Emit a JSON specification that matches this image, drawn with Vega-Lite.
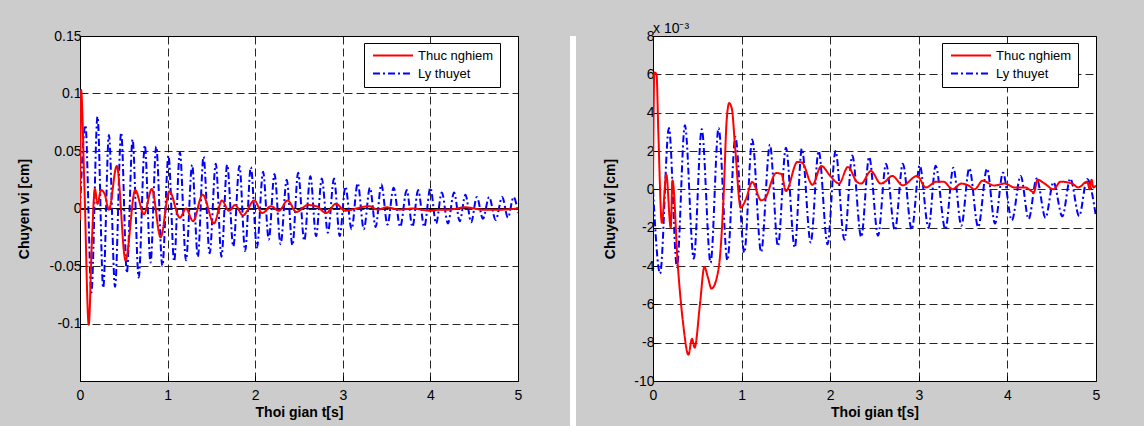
{
  "$schema": "https://vega.github.io/schema/vega-lite/v6.json",
  "background": "#cccccc",
  "padding": {"left": 16, "top": 0, "right": 44, "bottom": 0},
  "config": {
    "font": "Liberation Sans",
    "view": {"stroke": "black", "strokeWidth": 1, "fill": "white"},
    "axis": {
      "labelFont": "Liberation Sans", "labelFontSize": 14, "labelColor": "black",
      "titleFont": "Liberation Sans", "titleFontSize": 14, "titleFontWeight": "bold", "titleColor": "black",
      "domainColor": "black", "tickColor": "black", "tickSize": -5, "tickCount": 20,
      "gridColor": "black", "gridDash": [8, 4], "gridWidth": 1, "gridOpacity": 0.85,
      "labelFlush": false, "labelOverlap": false, "labelPadding": 4
    },
    "axisX": {"labelPadding": 12, "titlePadding": 3},
    "legend": {
      "orient": "none", "legendY": 7, "fillColor": "white", "strokeColor": "black", "padding": 6,
      "clipHeight": 13, "rowPadding": 4, "symbolType": "stroke", "symbolSize": 1600, "symbolStrokeWidth": 2,
      "labelFont": "Liberation Sans", "labelFontSize": 13, "labelColor": "black", "labelOffset": 4, "symbolOffset": 2
    },
    "title": {"anchor": "start", "frame": "group", "fontSize": 14, "fontWeight": "normal", "color": "black", "font": "Liberation Sans", "offset": -7, "subtitleFont": "Liberation Sans", "subtitleFontSize": 14, "subtitleColor": "black", "subtitlePadding": 7}
  },
  "datasets": {
    "left": [
      {"t": 0, "y": 0, "series": "Ly thuyet"},
      {"t": 0.062, "y": 0.0725, "series": "Ly thuyet"},
      {"t": 0.13, "y": -0.073, "series": "Ly thuyet"},
      {"t": 0.2, "y": 0.08, "series": "Ly thuyet"},
      {"t": 0.265, "y": -0.069, "series": "Ly thuyet"},
      {"t": 0.33, "y": 0.064, "series": "Ly thuyet"},
      {"t": 0.4, "y": -0.068, "series": "Ly thuyet"},
      {"t": 0.47, "y": 0.066, "series": "Ly thuyet"},
      {"t": 0.535, "y": -0.056, "series": "Ly thuyet"},
      {"t": 0.6, "y": 0.06, "series": "Ly thuyet"},
      {"t": 0.67, "y": -0.06, "series": "Ly thuyet"},
      {"t": 0.74, "y": 0.055, "series": "Ly thuyet"},
      {"t": 0.805, "y": -0.047, "series": "Ly thuyet"},
      {"t": 0.87, "y": 0.054, "series": "Ly thuyet"},
      {"t": 0.94, "y": -0.05, "series": "Ly thuyet"},
      {"t": 1.01, "y": 0.046, "series": "Ly thuyet"},
      {"t": 1.075, "y": -0.046, "series": "Ly thuyet"},
      {"t": 1.14, "y": 0.049, "series": "Ly thuyet"},
      {"t": 1.21, "y": -0.045, "series": "Ly thuyet"},
      {"t": 1.28, "y": 0.038, "series": "Ly thuyet"},
      {"t": 1.345, "y": -0.042, "series": "Ly thuyet"},
      {"t": 1.41, "y": 0.045, "series": "Ly thuyet"},
      {"t": 1.48, "y": -0.039, "series": "Ly thuyet"},
      {"t": 1.55, "y": 0.039, "series": "Ly thuyet"},
      {"t": 1.615, "y": -0.042, "series": "Ly thuyet"},
      {"t": 1.68, "y": 0.038, "series": "Ly thuyet"},
      {"t": 1.75, "y": -0.033, "series": "Ly thuyet"},
      {"t": 1.82, "y": 0.037, "series": "Ly thuyet"},
      {"t": 1.885, "y": -0.037, "series": "Ly thuyet"},
      {"t": 1.95, "y": 0.036, "series": "Ly thuyet"},
      {"t": 2.02, "y": -0.034, "series": "Ly thuyet"},
      {"t": 2.09, "y": 0.032, "series": "Ly thuyet"},
      {"t": 2.155, "y": -0.027, "series": "Ly thuyet"},
      {"t": 2.22, "y": 0.03, "series": "Ly thuyet"},
      {"t": 2.29, "y": -0.031, "series": "Ly thuyet"},
      {"t": 2.36, "y": 0.025, "series": "Ly thuyet"},
      {"t": 2.425, "y": -0.032, "series": "Ly thuyet"},
      {"t": 2.49, "y": 0.031, "series": "Ly thuyet"},
      {"t": 2.56, "y": -0.028, "series": "Ly thuyet"},
      {"t": 2.63, "y": 0.028, "series": "Ly thuyet"},
      {"t": 2.695, "y": -0.024, "series": "Ly thuyet"},
      {"t": 2.76, "y": 0.026, "series": "Ly thuyet"},
      {"t": 2.83, "y": -0.021, "series": "Ly thuyet"},
      {"t": 2.9, "y": 0.026, "series": "Ly thuyet"},
      {"t": 2.965, "y": -0.024, "series": "Ly thuyet"},
      {"t": 3.03, "y": 0.019, "series": "Ly thuyet"},
      {"t": 3.1, "y": -0.018, "series": "Ly thuyet"},
      {"t": 3.17, "y": 0.022, "series": "Ly thuyet"},
      {"t": 3.24, "y": -0.018, "series": "Ly thuyet"},
      {"t": 3.31, "y": 0.018, "series": "Ly thuyet"},
      {"t": 3.375, "y": -0.016, "series": "Ly thuyet"},
      {"t": 3.44, "y": 0.021, "series": "Ly thuyet"},
      {"t": 3.51, "y": -0.014, "series": "Ly thuyet"},
      {"t": 3.58, "y": 0.018, "series": "Ly thuyet"},
      {"t": 3.655, "y": -0.016, "series": "Ly thuyet"},
      {"t": 3.73, "y": 0.016, "series": "Ly thuyet"},
      {"t": 3.795, "y": -0.016, "series": "Ly thuyet"},
      {"t": 3.86, "y": 0.016, "series": "Ly thuyet"},
      {"t": 3.93, "y": -0.016, "series": "Ly thuyet"},
      {"t": 4.0, "y": 0.018, "series": "Ly thuyet"},
      {"t": 4.065, "y": -0.013, "series": "Ly thuyet"},
      {"t": 4.13, "y": 0.014, "series": "Ly thuyet"},
      {"t": 4.2, "y": -0.013, "series": "Ly thuyet"},
      {"t": 4.27, "y": 0.014, "series": "Ly thuyet"},
      {"t": 4.335, "y": -0.011, "series": "Ly thuyet"},
      {"t": 4.4, "y": 0.012, "series": "Ly thuyet"},
      {"t": 4.465, "y": -0.012, "series": "Ly thuyet"},
      {"t": 4.53, "y": 0.01, "series": "Ly thuyet"},
      {"t": 4.6, "y": -0.009, "series": "Ly thuyet"},
      {"t": 4.67, "y": 0.01, "series": "Ly thuyet"},
      {"t": 4.745, "y": -0.01, "series": "Ly thuyet"},
      {"t": 4.82, "y": 0.01, "series": "Ly thuyet"},
      {"t": 4.885, "y": -0.008, "series": "Ly thuyet"},
      {"t": 4.95, "y": 0.01, "series": "Ly thuyet"},
      {"t": 5.0, "y": -0.004, "series": "Ly thuyet"},
      {"t": 0, "y": -0.01, "series": "Thuc nghiem"},
      {"t": 0.012, "y": 0.103, "series": "Thuc nghiem"},
      {"t": 0.05, "y": 0.02, "series": "Thuc nghiem"},
      {"t": 0.1, "y": -0.101, "series": "Thuc nghiem"},
      {"t": 0.135, "y": -0.03, "series": "Thuc nghiem"},
      {"t": 0.17, "y": 0.017, "series": "Thuc nghiem"},
      {"t": 0.2, "y": 0.004, "series": "Thuc nghiem"},
      {"t": 0.24, "y": 0.016, "series": "Thuc nghiem"},
      {"t": 0.28, "y": 0.013, "series": "Thuc nghiem"},
      {"t": 0.33, "y": -0.001, "series": "Thuc nghiem"},
      {"t": 0.42, "y": 0.037, "series": "Thuc nghiem"},
      {"t": 0.52, "y": -0.045, "series": "Thuc nghiem"},
      {"t": 0.63, "y": 0.016, "series": "Thuc nghiem"},
      {"t": 0.73, "y": -0.005, "series": "Thuc nghiem"},
      {"t": 0.82, "y": 0.017, "series": "Thuc nghiem"},
      {"t": 0.92, "y": -0.025, "series": "Thuc nghiem"},
      {"t": 1.02, "y": 0.015, "series": "Thuc nghiem"},
      {"t": 1.14, "y": -0.008, "series": "Thuc nghiem"},
      {"t": 1.21, "y": 0.0, "series": "Thuc nghiem"},
      {"t": 1.29, "y": -0.011, "series": "Thuc nghiem"},
      {"t": 1.4, "y": 0.012, "series": "Thuc nghiem"},
      {"t": 1.53, "y": -0.013, "series": "Thuc nghiem"},
      {"t": 1.62, "y": 0.007, "series": "Thuc nghiem"},
      {"t": 1.7, "y": -0.002, "series": "Thuc nghiem"},
      {"t": 1.77, "y": 0.003, "series": "Thuc nghiem"},
      {"t": 1.86, "y": -0.006, "series": "Thuc nghiem"},
      {"t": 1.99, "y": 0.007, "series": "Thuc nghiem"},
      {"t": 2.08, "y": -0.004, "series": "Thuc nghiem"},
      {"t": 2.18, "y": 0.002, "series": "Thuc nghiem"},
      {"t": 2.27, "y": -0.002, "series": "Thuc nghiem"},
      {"t": 2.37, "y": 0.007, "series": "Thuc nghiem"},
      {"t": 2.47, "y": -0.003, "series": "Thuc nghiem"},
      {"t": 2.6, "y": 0.003, "series": "Thuc nghiem"},
      {"t": 2.7, "y": 0.002, "series": "Thuc nghiem"},
      {"t": 2.81, "y": -0.004, "series": "Thuc nghiem"},
      {"t": 2.92, "y": 0.004, "series": "Thuc nghiem"},
      {"t": 3.03, "y": -0.002, "series": "Thuc nghiem"},
      {"t": 3.15, "y": 0.0, "series": "Thuc nghiem"},
      {"t": 3.3, "y": 0.002, "series": "Thuc nghiem"},
      {"t": 3.4, "y": -0.001, "series": "Thuc nghiem"},
      {"t": 3.5, "y": 0.001, "series": "Thuc nghiem"},
      {"t": 3.65, "y": -0.001, "series": "Thuc nghiem"},
      {"t": 3.8, "y": 0.0, "series": "Thuc nghiem"},
      {"t": 3.9, "y": -0.001, "series": "Thuc nghiem"},
      {"t": 4.0, "y": -0.002, "series": "Thuc nghiem"},
      {"t": 4.1, "y": -0.001, "series": "Thuc nghiem"},
      {"t": 4.2, "y": -0.001, "series": "Thuc nghiem"},
      {"t": 4.4, "y": 0.001, "series": "Thuc nghiem"},
      {"t": 4.6, "y": -0.001, "series": "Thuc nghiem"},
      {"t": 4.8, "y": -0.001, "series": "Thuc nghiem"},
      {"t": 5.0, "y": 0.0, "series": "Thuc nghiem"}
    ],
    "right": [
      {"t": 0, "y": 0, "series": "Ly thuyet"},
      {"t": 0.08, "y": -0.0044, "series": "Ly thuyet"},
      {"t": 0.18, "y": 0.0032, "series": "Ly thuyet"},
      {"t": 0.27, "y": -0.00405, "series": "Ly thuyet"},
      {"t": 0.36, "y": 0.00334, "series": "Ly thuyet"},
      {"t": 0.46, "y": -0.00362, "series": "Ly thuyet"},
      {"t": 0.55, "y": 0.00313, "series": "Ly thuyet"},
      {"t": 0.65, "y": -0.00383, "series": "Ly thuyet"},
      {"t": 0.74, "y": 0.0032, "series": "Ly thuyet"},
      {"t": 0.84, "y": -0.0037, "series": "Ly thuyet"},
      {"t": 0.93, "y": 0.00273, "series": "Ly thuyet"},
      {"t": 1.03, "y": -0.0033, "series": "Ly thuyet"},
      {"t": 1.12, "y": 0.0026, "series": "Ly thuyet"},
      {"t": 1.22, "y": -0.00327, "series": "Ly thuyet"},
      {"t": 1.32, "y": 0.00233, "series": "Ly thuyet"},
      {"t": 1.41, "y": -0.00296, "series": "Ly thuyet"},
      {"t": 1.5, "y": 0.00217, "series": "Ly thuyet"},
      {"t": 1.6, "y": -0.00304, "series": "Ly thuyet"},
      {"t": 1.68, "y": 0.00212, "series": "Ly thuyet"},
      {"t": 1.78, "y": -0.00277, "series": "Ly thuyet"},
      {"t": 1.87, "y": 0.002, "series": "Ly thuyet"},
      {"t": 1.97, "y": -0.00287, "series": "Ly thuyet"},
      {"t": 2.06, "y": 0.002, "series": "Ly thuyet"},
      {"t": 2.16, "y": -0.00263, "series": "Ly thuyet"},
      {"t": 2.25, "y": 0.00176, "series": "Ly thuyet"},
      {"t": 2.35, "y": -0.00249, "series": "Ly thuyet"},
      {"t": 2.44, "y": 0.00169, "series": "Ly thuyet"},
      {"t": 2.54, "y": -0.00242, "series": "Ly thuyet"},
      {"t": 2.63, "y": 0.00134, "series": "Ly thuyet"},
      {"t": 2.73, "y": -0.00214, "series": "Ly thuyet"},
      {"t": 2.82, "y": 0.00134, "series": "Ly thuyet"},
      {"t": 2.92, "y": -0.0021, "series": "Ly thuyet"},
      {"t": 3.01, "y": 0.00125, "series": "Ly thuyet"},
      {"t": 3.11, "y": -0.00202, "series": "Ly thuyet"},
      {"t": 3.19, "y": 0.00123, "series": "Ly thuyet"},
      {"t": 3.3, "y": -0.00209, "series": "Ly thuyet"},
      {"t": 3.39, "y": 0.00113, "series": "Ly thuyet"},
      {"t": 3.48, "y": -0.0019, "series": "Ly thuyet"},
      {"t": 3.57, "y": 0.0011, "series": "Ly thuyet"},
      {"t": 3.67, "y": -0.00197, "series": "Ly thuyet"},
      {"t": 3.77, "y": 0.00108, "series": "Ly thuyet"},
      {"t": 3.86, "y": -0.00179, "series": "Ly thuyet"},
      {"t": 3.95, "y": 0.00087, "series": "Ly thuyet"},
      {"t": 4.05, "y": -0.00162, "series": "Ly thuyet"},
      {"t": 4.15, "y": 0.0007, "series": "Ly thuyet"},
      {"t": 4.24, "y": -0.00155, "series": "Ly thuyet"},
      {"t": 4.33, "y": 0.00057, "series": "Ly thuyet"},
      {"t": 4.43, "y": -0.00148, "series": "Ly thuyet"},
      {"t": 4.52, "y": 0.00037, "series": "Ly thuyet"},
      {"t": 4.62, "y": -0.00141, "series": "Ly thuyet"},
      {"t": 4.71, "y": 0.00056, "series": "Ly thuyet"},
      {"t": 4.81, "y": -0.00139, "series": "Ly thuyet"},
      {"t": 4.9, "y": 0.00054, "series": "Ly thuyet"},
      {"t": 5.0, "y": -0.00144, "series": "Ly thuyet"},
      {"t": 0, "y": 0, "series": "Thuc nghiem"},
      {"t": 0.015, "y": 0.0061, "series": "Thuc nghiem"},
      {"t": 0.04, "y": 0.006, "series": "Thuc nghiem"},
      {"t": 0.06, "y": 0.003, "series": "Thuc nghiem"},
      {"t": 0.1, "y": -0.00174, "series": "Thuc nghiem"},
      {"t": 0.15, "y": 0.00078, "series": "Thuc nghiem"},
      {"t": 0.2, "y": -0.002, "series": "Thuc nghiem"},
      {"t": 0.22, "y": 0.00047, "series": "Thuc nghiem"},
      {"t": 0.28, "y": -0.00397, "series": "Thuc nghiem"},
      {"t": 0.34, "y": -0.007, "series": "Thuc nghiem"},
      {"t": 0.4, "y": -0.00863, "series": "Thuc nghiem"},
      {"t": 0.44, "y": -0.0078, "series": "Thuc nghiem"},
      {"t": 0.47, "y": -0.00826, "series": "Thuc nghiem"},
      {"t": 0.53, "y": -0.006, "series": "Thuc nghiem"},
      {"t": 0.58, "y": -0.00405, "series": "Thuc nghiem"},
      {"t": 0.62, "y": -0.0046, "series": "Thuc nghiem"},
      {"t": 0.66, "y": -0.00518, "series": "Thuc nghiem"},
      {"t": 0.72, "y": -0.0046, "series": "Thuc nghiem"},
      {"t": 0.76, "y": -0.0033, "series": "Thuc nghiem"},
      {"t": 0.8, "y": 0.0, "series": "Thuc nghiem"},
      {"t": 0.83, "y": 0.0035, "series": "Thuc nghiem"},
      {"t": 0.86, "y": 0.0045, "series": "Thuc nghiem"},
      {"t": 0.89, "y": 0.0042, "series": "Thuc nghiem"},
      {"t": 0.93, "y": 0.002, "series": "Thuc nghiem"},
      {"t": 0.99, "y": -0.00096, "series": "Thuc nghiem"},
      {"t": 1.05, "y": -0.0005, "series": "Thuc nghiem"},
      {"t": 1.12, "y": 0.00038, "series": "Thuc nghiem"},
      {"t": 1.22, "y": -0.00057, "series": "Thuc nghiem"},
      {"t": 1.26, "y": -0.0005, "series": "Thuc nghiem"},
      {"t": 1.39, "y": 0.00085, "series": "Thuc nghiem"},
      {"t": 1.45, "y": 0.0008, "series": "Thuc nghiem"},
      {"t": 1.5, "y": -0.00009, "series": "Thuc nghiem"},
      {"t": 1.63, "y": 0.00143, "series": "Thuc nghiem"},
      {"t": 1.68, "y": 0.0014, "series": "Thuc nghiem"},
      {"t": 1.8, "y": 0.00024, "series": "Thuc nghiem"},
      {"t": 1.9, "y": 0.00122, "series": "Thuc nghiem"},
      {"t": 2.0, "y": 0.0007, "series": "Thuc nghiem"},
      {"t": 2.1, "y": 0.0003, "series": "Thuc nghiem"},
      {"t": 2.2, "y": 0.00117, "series": "Thuc nghiem"},
      {"t": 2.3, "y": 0.0004, "series": "Thuc nghiem"},
      {"t": 2.35, "y": 0.0003, "series": "Thuc nghiem"},
      {"t": 2.46, "y": 0.00096, "series": "Thuc nghiem"},
      {"t": 2.57, "y": 0.0003, "series": "Thuc nghiem"},
      {"t": 2.62, "y": 0.0004, "series": "Thuc nghiem"},
      {"t": 2.7, "y": 0.0007, "series": "Thuc nghiem"},
      {"t": 2.82, "y": 0.00021, "series": "Thuc nghiem"},
      {"t": 2.98, "y": 0.0007, "series": "Thuc nghiem"},
      {"t": 3.08, "y": 0.0001, "series": "Thuc nghiem"},
      {"t": 3.2, "y": 0.0004, "series": "Thuc nghiem"},
      {"t": 3.28, "y": 0.0004, "series": "Thuc nghiem"},
      {"t": 3.38, "y": 0.0, "series": "Thuc nghiem"},
      {"t": 3.48, "y": 0.0003, "series": "Thuc nghiem"},
      {"t": 3.56, "y": 0.0002, "series": "Thuc nghiem"},
      {"t": 3.63, "y": 0.0, "series": "Thuc nghiem"},
      {"t": 3.72, "y": 0.00045, "series": "Thuc nghiem"},
      {"t": 3.85, "y": 0.0002, "series": "Thuc nghiem"},
      {"t": 3.97, "y": 0.0003, "series": "Thuc nghiem"},
      {"t": 4.08, "y": 0.0001, "series": "Thuc nghiem"},
      {"t": 4.2, "y": 0.0001, "series": "Thuc nghiem"},
      {"t": 4.3, "y": -0.00015, "series": "Thuc nghiem"},
      {"t": 4.34, "y": 0.0005, "series": "Thuc nghiem"},
      {"t": 4.42, "y": 0.0003, "series": "Thuc nghiem"},
      {"t": 4.52, "y": 0.0, "series": "Thuc nghiem"},
      {"t": 4.6, "y": 0.0004, "series": "Thuc nghiem"},
      {"t": 4.73, "y": 0.0003, "series": "Thuc nghiem"},
      {"t": 4.8, "y": 0.0001, "series": "Thuc nghiem"},
      {"t": 4.9, "y": 0.0004, "series": "Thuc nghiem"},
      {"t": 4.93, "y": 0.0, "series": "Thuc nghiem"},
      {"t": 4.95, "y": 0.0005, "series": "Thuc nghiem"},
      {"t": 4.97, "y": 0.0001, "series": "Thuc nghiem"},
      {"t": 5.0, "y": 0.0002, "series": "Thuc nghiem"}
    ]
  },
  "resolve": {"scale": {"color": "independent", "strokeDash": "independent"}, "legend": {"color": "independent", "strokeDash": "independent"}},
  "spacing": 27,
  "hconcat": [
    {
      "spacing": 47,
      "resolve": {"scale": {"color": "independent", "strokeDash": "independent"}, "legend": {"color": "independent", "strokeDash": "independent"}},
      "hconcat": [
        {
          "width": 438, "height": 345,
          "title": {"text": " ", "subtitle": " "},
          "data": {"name": "left"},
          "layer": [
            {
              "mark": {"type": "rule", "color": "black", "strokeWidth": 1},
              "encoding": {"y": {"datum": 0, "type": "quantitative", "title": "Chuyen vi [cm]"}}
            },
            {
              "transform": [{"filter": "datum.series == 'Ly thuyet'"}],
              "mark": {"type": "line", "interpolate": "monotone", "strokeWidth": 2, "clip": true},
              "encoding": {
                "x": {"field": "t", "type": "quantitative", "scale": {"domain": [0, 5], "nice": false}, "axis": {"values": [0, 1, 2, 3, 4, 5], "format": "d", "title": "Thoi gian t[s]", "grid": true}},
                "y": {"field": "y", "type": "quantitative", "scale": {"domain": [-0.15, 0.15], "nice": false, "zero": false}, "axis": {"values": [-0.1, -0.05, 0, 0.05, 0.1, 0.15], "labelExpr": "'' + datum.value", "title": "Chuyen vi [cm]", "titlePadding": 18, "grid": true}},
                "color": {"field": "series", "type": "nominal", "scale": {"domain": ["Thuc nghiem", "Ly thuyet"], "range": ["#ff0000", "#0000ff"]}, "legend": {"title": null, "legendX": 284}},
                "strokeDash": {"field": "series", "type": "nominal", "scale": {"domain": ["Thuc nghiem", "Ly thuyet"], "range": [[1, 0], [7, 3, 2, 3]]}, "legend": {"title": null, "legendX": 284}}
              }
            },
            {
              "transform": [{"filter": "datum.series == 'Thuc nghiem'"}],
              "mark": {"type": "line", "interpolate": "monotone", "strokeWidth": 2, "clip": true},
              "encoding": {
                "x": {"field": "t", "type": "quantitative"},
                "y": {"field": "y", "type": "quantitative"},
                "color": {"field": "series", "type": "nominal"},
                "strokeDash": {"field": "series", "type": "nominal"}
              }
            }
          ]
        },
        {
          "width": 6, "height": 426,
          "data": {"values": []},
          "mark": "rect",
          "view": {"fill": "white", "stroke": null}
        }
      ]
    },
    {
      "width": 443, "height": 345,
      "title": {"text": " ", "subtitle": "x 10⁻³"},
      "data": {"name": "right"},
      "layer": [
        {
          "transform": [{"filter": "datum.series == 'Ly thuyet'"}],
          "mark": {"type": "line", "interpolate": "monotone", "strokeWidth": 2, "clip": true},
          "encoding": {
            "x": {"field": "t", "type": "quantitative", "scale": {"domain": [0, 5], "nice": false}, "axis": {"values": [0, 1, 2, 3, 4, 5], "format": "d", "title": "Thoi gian t[s]", "grid": true}},
            "y": {"field": "y", "type": "quantitative", "scale": {"domain": [-0.01, 0.008], "nice": false, "zero": false}, "axis": {"values": [-0.01, -0.008, -0.006, -0.004, -0.002, 0, 0.002, 0.004, 0.006, 0.008], "labelExpr": "'' + round(datum.value * 1000)", "title": "Chuyen vi [cm]", "titlePadding": 16, "grid": true}},
            "color": {"field": "series", "type": "nominal", "scale": {"domain": ["Thuc nghiem", "Ly thuyet"], "range": ["#ff0000", "#0000ff"]}, "legend": {"title": null, "legendX": 289}},
            "strokeDash": {"field": "series", "type": "nominal", "scale": {"domain": ["Thuc nghiem", "Ly thuyet"], "range": [[1, 0], [7, 3, 2, 3]]}, "legend": {"title": null, "legendX": 289}}
          }
        },
        {
          "transform": [{"filter": "datum.series == 'Thuc nghiem'"}],
          "mark": {"type": "line", "interpolate": "monotone", "strokeWidth": 2, "clip": true},
          "encoding": {
            "x": {"field": "t", "type": "quantitative"},
            "y": {"field": "y", "type": "quantitative"},
            "color": {"field": "series", "type": "nominal"},
            "strokeDash": {"field": "series", "type": "nominal"}
          }
        }
      ]
    }
  ]
}
